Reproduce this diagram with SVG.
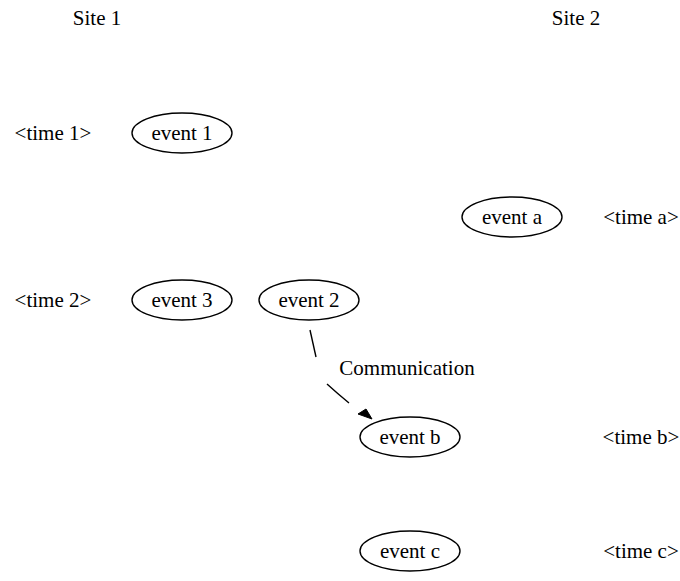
<svg xmlns="http://www.w3.org/2000/svg" width="680" height="581" viewBox="0 0 680 581" font-family="'Liberation Serif', 'DejaVu Serif', serif">
  <style>
    text { font-family: "Liberation Serif", "Times New Roman", "DejaVu Serif", serif; font-size: 21px; fill: #000; text-anchor: middle; }
    ellipse { fill: none; stroke: #000; stroke-width: 1.4; }
    .edge { fill: none; stroke: #000; stroke-width: 1.4; }
  </style>
  <rect width="680" height="581" fill="#fff"/>

  <!-- column headers -->
  <g id="site1"><text x="97" y="25">Site 1</text></g>
  <g id="site2"><text x="576" y="25">Site 2</text></g>

  <!-- time labels -->
  <g id="time1"><text x="53" y="140">&lt;time 1&gt;</text></g>
  <g id="time2"><text x="53" y="307">&lt;time 2&gt;</text></g>
  <g id="timeA"><text x="641" y="224">&lt;time a&gt;</text></g>
  <g id="timeB"><text x="641" y="444">&lt;time b&gt;</text></g>
  <g id="timeC"><text x="641" y="558">&lt;time c&gt;</text></g>

  <!-- events -->
  <g id="event1"><ellipse cx="182" cy="133" rx="50" ry="20"/><text x="182" y="140">event 1</text></g>
  <g id="eventA"><ellipse cx="512" cy="217" rx="50" ry="20"/><text x="512" y="224">event a</text></g>
  <g id="event3"><ellipse cx="182" cy="300" rx="50" ry="20"/><text x="182" y="307">event 3</text></g>
  <g id="event2"><ellipse cx="309" cy="300" rx="50" ry="20"/><text x="309" y="307">event 2</text></g>
  <g id="eventB"><ellipse cx="410" cy="437" rx="50" ry="20"/><text x="410" y="444">event b</text></g>
  <g id="eventC"><ellipse cx="410" cy="551" rx="50" ry="20"/><text x="410" y="558">event c</text></g>

  <!-- connectors -->
  <g id="edges">
    <path class="edge" d="M310,330 L316,357"/>
    <path class="edge" d="M327,384 Q338,394 349,403"/>
    <polygon points="358,414 366,409 372,419" fill="#000" stroke="#000" stroke-width="1"/>
    <text x="407" y="375">Communication</text>
  </g>
</svg>
